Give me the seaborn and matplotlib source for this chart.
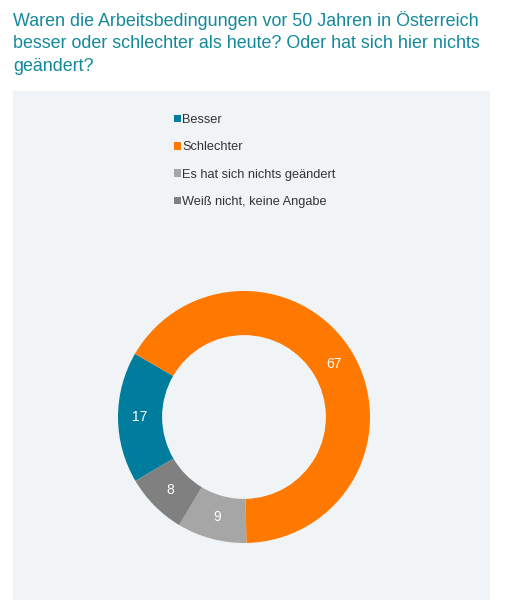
import matplotlib
matplotlib.use("Agg")
import matplotlib.pyplot as plt
import seaborn as sns

categories = ["Besser", "Schlechter", "Es hat sich nichts geändert", "Weiß nicht, keine Angabe"]
values = [17, 67, 9, 8]
colors = ["#007d9c", "#ff7800", "#a6a6a6", "#808080"]
title = "Waren die Arbeitsbedingungen vor 50 Jahren in Österreich\nbesser oder schlechter als heute? Oder hat sich hier nichts\ngeändert?"

sns.set_theme(style="white")
plt.rcParams['font.family'] = ['Liberation Sans', 'DejaVu Sans']

W, H = 506, 600
fig = plt.figure(figsize=(W / 100, H / 100), dpi=100)
fig.patch.set_facecolor("white")

# panel axes
pl, pr, pt, pb = 13, 490, 91, 600
ax = fig.add_axes([pl / W, 1 - pb / H, (pr - pl) / W, (pb - pt) / H])

cx, cy, R = 244, 417, 126
wedges, texts, autotexts = ax.pie(
    values, colors=colors, startangle=210.5, counterclock=False,
    radius=1.0, wedgeprops=dict(width=0.35, edgecolor="none"),
    autopct=lambda p: "", pctdistance=0.825, frame=True,
)
for t, v in zip(autotexts, values):
    t.set_text(str(v))
    t.set_color("white")
    t.set_fontsize(10)

ax.set_facecolor("#f0f4f7")
ax.set_aspect("auto")
ax.set_xlim(-(cx - pl) / R, (pr - cx) / R)
ax.set_ylim(-(pb - cy) / R, (cy - pt) / R)
ax.set_xticks([]); ax.set_yticks([])
for s in ax.spines.values():
    s.set_visible(False)

leg = fig.legend(
    wedges, categories, loc="upper left",
    bbox_to_anchor=(174 / W, 1 - 114 / H), bbox_transform=fig.transFigure,
    frameon=False, fontsize=9.2, handlelength=0.56, handleheight=0.56,
    handletextpad=0.1, labelspacing=1.2, borderpad=0, borderaxespad=0,
)
for t in leg.get_texts():
    t.set_color("#333333")

fig.text(13 / W, 1 - 11 / H, title, ha="left", va="top", fontsize=12.9,
         color="#14899a", linespacing=1.41)

fig.savefig("out.png", dpi=100, facecolor="white")
